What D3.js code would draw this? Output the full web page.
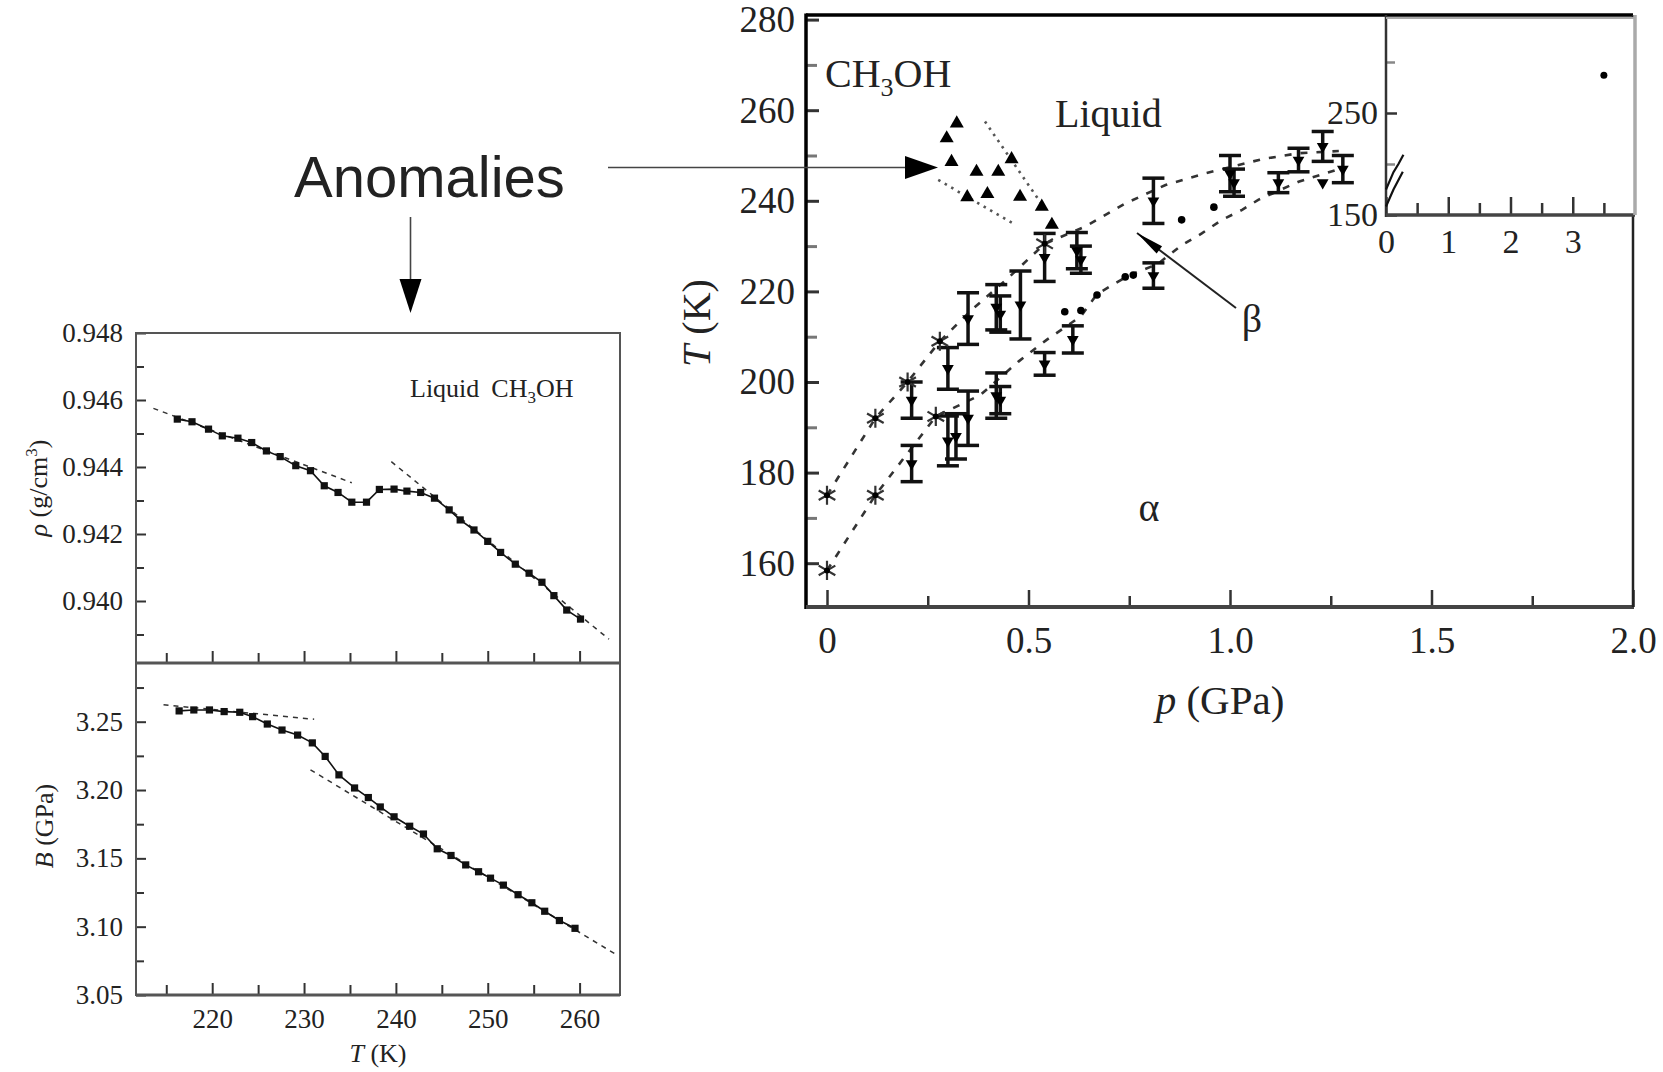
<!DOCTYPE html>
<html>
<head>
<meta charset="utf-8">
<script src="https://cdn.jsdelivr.net/npm/d3@7"></script>
<style>
  body { margin: 0; background: #fff; }
  svg { display: block; }
  text { font-family: "Liberation Serif", "Times New Roman", serif; fill: #222; }
</style>
</head>
<body>
<svg id="fig" width="1663" height="1072"></svg>
<script>
// ---------------- Left figure: liquid CH3OH density and bulk modulus ----------------
const rhoT = [216.2, 217.8, 219.6, 221.1, 222.8, 224.3, 225.9, 227.4, 229.1, 230.7, 232.2, 233.7, 235.2, 236.8, 238.2,
              239.8, 241.2, 242.7, 244.2, 245.8, 247.0, 248.5, 250.0, 251.4, 253.0, 254.5, 255.9, 257.2, 258.6, 260.1];
const rhoVal = [0.94543, 0.94535, 0.94513, 0.94493, 0.94486, 0.94473, 0.94448, 0.94431, 0.94404, 0.94389, 0.94344, 0.94324,
                0.94295, 0.94295, 0.94333, 0.94334, 0.94328, 0.94324, 0.94307, 0.94272, 0.94242, 0.94212, 0.94178, 0.94145,
                0.94110, 0.94083, 0.94056, 0.94016, 0.93973, 0.93946];
const rhoFitAT = [213.6, 235.2], rhoFitAV = [0.94575, 0.94353];
const rhoFitBT = [239.5, 263.2], rhoFitBV = [0.94416, 0.93886];

const bT = [216.4, 218.0, 219.7, 221.3, 223.0, 224.4, 226.0, 227.6, 229.3, 230.9, 232.3, 233.8, 235.5, 237.0, 238.3,
            239.8, 241.5, 243.0, 244.5, 246.0, 247.6, 249.0, 250.3, 251.7, 253.3, 254.8, 256.2, 257.8, 259.5];
const bVal = [3.2579, 3.2586, 3.2586, 3.2574, 3.2569, 3.2537, 3.2483, 3.2439, 3.2402, 3.2345, 3.2246, 3.2111, 3.2015, 3.1945,
              3.1876, 3.1804, 3.1735, 3.1678, 3.1570, 3.1521, 3.1452, 3.1402, 3.1355, 3.1304, 3.1234, 3.1175, 3.1113, 3.1045, 3.0988];
const bFitAT = [214.7, 231.1], bFitAV = [3.2624, 3.2518];
const bFitBT = [230.7, 264.2], bFitBV = [3.2148, 3.0787];

const leftTempMajor = [220, 230, 240, 250, 260];
const leftTempMinor = [215, 225, 235, 245, 255];
const rhoTicks = [0.940, 0.942, 0.944, 0.946, 0.948];
const rhoMinor = [0.939, 0.941, 0.943, 0.945, 0.947];
const bTicks = [3.05, 3.10, 3.15, 3.20, 3.25];
const bMinor = [3.075, 3.125, 3.175, 3.225, 3.275];

// ---------------- Right figure: T–p phase diagram ----------------
const pTicks = [0, 0.5, 1.0, 1.5, 2.0];
const pMinor = [0.25, 0.75, 1.25, 1.75];
const tTicks = [160, 180, 200, 220, 240, 260, 280];
const tMinor = [170, 190, 210, 230, 250, 270];

const curveUpP = [0, 0.12, 0.20, 0.28, 0.36, 0.45, 0.54, 0.64, 0.74, 0.84, 0.94, 1.08, 1.17, 1.27];
const curveUpT = [175, 192, 200, 209, 216, 223, 230.5, 234.3, 239.4, 243.5, 246.1, 249.2, 250.5, 251];
const curveLoP = [0, 0.12, 0.27, 0.38, 0.475, 0.545, 0.63, 0.67, 0.75, 0.82, 0.88, 0.93, 0.98, 1.03, 1.07, 1.17, 1.27];
const curveLoT = [158.4, 175, 192.4, 197.1, 204.5, 209.3, 214.5, 219.4, 223.6, 226, 230.2, 232.8, 235.8, 238, 240.2, 244.2, 247];

const starP = [0, 0.12, 0.20, 0.28, 0.54, 0, 0.12, 0.27];
const starT = [175, 192, 200, 209, 230.5, 158.4, 175, 192.4];

const triP = [0.322, 0.297, 0.309, 0.371, 0.425, 0.458, 0.348, 0.398, 0.479, 0.533, 0.558];
const triT = [257.1, 253.8, 248.6, 246.4, 246.4, 249.2, 240.8, 241.5, 240.9, 238.7, 234.7];
const dotLineAP = [0.392, 0.537], dotLineAT = [257.5, 238.7];
const dotLineBP = [0.276, 0.462], dotLineBT = [244.6, 235.0];

const ebP = [0.21, 0.21, 0.30, 0.30, 0.32, 0.35, 0.42, 0.43, 0.54, 0.61, 0.81,
             0.35, 0.42, 0.43, 0.48, 0.54, 0.62, 0.63, 0.81, 1.00, 1.01, 1.12, 1.17, 1.23, 1.28];
const ebT = [182, 196, 203, 187, 188, 192, 197, 196, 204, 209.4, 223.5,
             214, 216.5, 215, 217, 227.5, 229, 227, 240, 246, 244, 244, 249, 252, 247];
const ebErr = [4, 4, 4.6, 5.5, 5, 6, 5, 3, 2.5, 3, 2.8,
               5.7, 5, 4, 7.5, 5.3, 4, 3, 5, 4, 3, 2.2, 2.6, 3.3, 3];

const dotP = [0.59, 0.63, 0.67, 0.74, 0.76, 0.88, 0.96];
const dotT = [215.5, 215.8, 219.2, 223.2, 223.6, 235.8, 238.6];
const loneP = [1.23], loneT = [244];

const insetPTicks = [0, 1, 2, 3];
const insetPMinor = [0.5, 1.5, 2.5, 3.5];
const insetTTicks = [150, 250];
const insetTMinor = [200, 300];
const insetPointP = [3.5], insetPointT = [287];

// ====================================================================
const svg = d3.select("#fig");
const zip = (a, b) => a.map((v, i) => [v, b[i]]);

// ---------- left figure frame ----------
const L = { left: 136, right: 620, top: 333, mid: 663, bottom: 995 };
const xL = d3.scaleLinear().domain([220, 260]).range([212.2, 579.6]);
const yRho = d3.scaleLinear().domain([0.940, 0.948]).range([601, 333]);
const yB = d3.scaleLinear().domain([3.05, 3.25]).range([995, 721.7]);

const left = svg.append("g");
const frameStroke = "#555";

function styleAxis(g) {
  g.select(".domain").remove();
  g.selectAll(".tick line").attr("stroke", "#333").attr("stroke-width", 2);
  g.selectAll(".tick text").attr("fill", "#222").attr("font-family", "Liberation Serif");
}

// ρ axis
left.append("g").attr("transform", `translate(${L.left},0)`)
  .call(d3.axisLeft(yRho).tickValues(rhoTicks).tickFormat(d3.format(".3f")).tickSizeInner(-10).tickSizeOuter(0).tickPadding(13))
  .call(styleAxis).call(g => g.selectAll("text").attr("font-size", 27));
left.append("g").attr("transform", `translate(${L.left},0)`)
  .call(d3.axisLeft(yRho).tickValues(rhoMinor).tickFormat("").tickSizeInner(-8).tickSizeOuter(0))
  .call(styleAxis);
// B axis
left.append("g").attr("transform", `translate(${L.left},0)`)
  .call(d3.axisLeft(yB).tickValues(bTicks).tickFormat(d3.format(".2f")).tickSizeInner(-10).tickSizeOuter(0).tickPadding(13))
  .call(styleAxis).call(g => g.selectAll("text").attr("font-size", 27));
left.append("g").attr("transform", `translate(${L.left},0)`)
  .call(d3.axisLeft(yB).tickValues(bMinor).tickFormat("").tickSizeInner(-8).tickSizeOuter(0))
  .call(styleAxis);
// temperature ticks on the divider and on the bottom axis
[L.mid, L.bottom].forEach((yy, k) => {
  left.append("g").attr("transform", `translate(0,${yy})`)
    .call(d3.axisBottom(xL).tickValues(leftTempMajor).tickFormat(k === 1 ? d3.format("d") : "")
      .tickSizeInner(-12).tickSizeOuter(0).tickPadding(14))
    .call(styleAxis).call(g => g.selectAll("text").attr("font-size", 27));
  left.append("g").attr("transform", `translate(0,${yy})`)
    .call(d3.axisBottom(xL).tickValues(leftTempMinor).tickFormat("").tickSizeInner(-10).tickSizeOuter(0))
    .call(styleAxis);
});

// frames
left.append("rect").attr("x", L.left).attr("y", L.top).attr("width", L.right - L.left).attr("height", L.bottom - L.top)
  .attr("fill", "none").attr("stroke", frameStroke).attr("stroke-width", 2);
left.append("line").attr("x1", L.left).attr("x2", L.right).attr("y1", L.mid).attr("y2", L.mid)
  .attr("stroke", frameStroke).attr("stroke-width", 3);
left.append("line").attr("x1", L.left).attr("x2", L.right).attr("y1", L.bottom).attr("y2", L.bottom)
  .attr("stroke", frameStroke).attr("stroke-width", 3);

function drawSeries(g, xs, ys, yScale) {
  const line = d3.line().x(d => xL(d[0])).y(d => yScale(d[1]));
  g.append("path").datum(zip(xs, ys)).attr("d", line).attr("fill", "none").attr("stroke", "#111").attr("stroke-width", 1.6);
  g.selectAll(null).data(zip(xs, ys)).join("rect")
    .attr("x", d => xL(d[0]) - 3.6).attr("y", d => yScale(d[1]) - 3.6).attr("width", 7.2).attr("height", 7.2)
    .attr("fill", "#111");
}
function drawFit(g, xs, ys, yScale) {
  g.append("path").datum(zip(xs, ys))
    .attr("d", d3.line().x(d => xL(d[0])).y(d => yScale(d[1])))
    .attr("fill", "none").attr("stroke", "#333").attr("stroke-width", 1.5).attr("stroke-dasharray", "5,5");
}
drawFit(left, rhoFitAT, rhoFitAV, yRho);
drawFit(left, rhoFitBT, rhoFitBV, yRho);
drawSeries(left, rhoT, rhoVal, yRho);
drawFit(left, bFitAT, bFitAV, yB);
drawFit(left, bFitBT, bFitBV, yB);
drawSeries(left, bT, bVal, yB);

// left labels
const lbl1 = left.append("text").attr("x", 410).attr("y", 397).attr("font-size", 26);
lbl1.append("tspan").text("Liquid");
lbl1.append("tspan").attr("dx", 12).text("CH");
lbl1.append("tspan").attr("font-size", 17).attr("dy", 6).text("3");
lbl1.append("tspan").attr("dy", -6).text("OH");

const rhoTitle = left.append("text").attr("transform", "translate(47,488) rotate(-90)")
  .attr("text-anchor", "middle").attr("font-size", 26);
rhoTitle.append("tspan").attr("font-style", "italic").text("ρ");
rhoTitle.append("tspan").text("  (g/cm");
rhoTitle.append("tspan").attr("font-size", 17).attr("dy", -10).text("3");
rhoTitle.append("tspan").attr("dy", 10).text(")");

const bTitle = left.append("text").attr("transform", "translate(53,826) rotate(-90)")
  .attr("text-anchor", "middle").attr("font-size", 26);
bTitle.append("tspan").attr("font-style", "italic").text("B");
bTitle.append("tspan").text("  (GPa)");

const tTitleL = left.append("text").attr("x", 378).attr("y", 1062).attr("text-anchor", "middle").attr("font-size", 26);
tTitleL.append("tspan").attr("font-style", "italic").text("T");
tTitleL.append("tspan").text(" (K)");

// ---------- right figure: phase diagram ----------
const M = { left: 806, right: 1633, top: 15, bottom: 607 };
const xM = d3.scaleLinear().domain([0, 2]).range([827, 1633]);
const yM = d3.scaleLinear().domain([160, 280]).range([563.2, 19.6]);
const main = svg.append("g");

main.append("g").attr("transform", `translate(${M.left},0)`)
  .call(d3.axisLeft(yM).tickValues(tTicks).tickFormat(d3.format("d")).tickSizeInner(-13).tickSizeOuter(0).tickPadding(11))
  .call(styleAxis).call(g => { g.selectAll("line").attr("stroke-width", 3); g.selectAll("text").attr("font-size", 37); });
main.append("g").attr("transform", `translate(${M.left},0)`)
  .call(d3.axisLeft(yM).tickValues(tMinor).tickFormat("").tickSizeInner(-11).tickSizeOuter(0))
  .call(styleAxis).call(g => g.selectAll("line").attr("stroke", "#777").attr("stroke-width", 3));
main.append("g").attr("transform", `translate(0,${M.bottom})`)
  .call(d3.axisBottom(xM).tickValues(pTicks).tickFormat(d => d === 0 ? "0" : d.toFixed(1))
    .tickSizeInner(-17).tickSizeOuter(0).tickPadding(20))
  .call(styleAxis).call(g => { g.selectAll("line").attr("stroke-width", 2.5); g.selectAll("text").attr("font-size", 37); });
main.append("g").attr("transform", `translate(0,${M.bottom})`)
  .call(d3.axisBottom(xM).tickValues(pMinor).tickFormat("").tickSizeInner(-11).tickSizeOuter(0))
  .call(styleAxis).call(g => g.selectAll("line").attr("stroke-width", 2.5));

// frame
main.append("line").attr("x1", M.left).attr("x2", M.left).attr("y1", M.top - 1.5).attr("y2", M.bottom + 2)
  .attr("stroke", "#000").attr("stroke-width", 3.5);
main.append("line").attr("x1", M.left).attr("x2", M.right).attr("y1", M.top).attr("y2", M.top)
  .attr("stroke", "#000").attr("stroke-width", 3.5);
main.append("line").attr("x1", M.left).attr("x2", M.right + 1).attr("y1", M.bottom).attr("y2", M.bottom)
  .attr("stroke", "#444").attr("stroke-width", 4);
main.append("line").attr("x1", M.right).attr("x2", M.right).attr("y1", M.top).attr("y2", M.bottom)
  .attr("stroke", "#222").attr("stroke-width", 2.5);

const lineM = d3.line().x(d => xM(d[0])).y(d => yM(d[1]));

// phase boundaries
[[curveUpP, curveUpT], [curveLoP, curveLoT]].forEach(([ps, ts]) => {
  main.append("path").datum(zip(ps, ts)).attr("d", lineM).attr("fill", "none")
    .attr("stroke", "#333").attr("stroke-width", 2.6).attr("stroke-dasharray", "7,9");
});
// anomaly region boundaries
[[dotLineAP, dotLineAT], [dotLineBP, dotLineBT]].forEach(([ps, ts]) => {
  main.append("path").datum(zip(ps, ts)).attr("d", lineM).attr("fill", "none")
    .attr("stroke", "#555").attr("stroke-width", 2.6).attr("stroke-dasharray", "2.5,5");
});

// error bars
const capW = 11;
const eb = main.append("g").attr("stroke", "#111").attr("stroke-width", 3.5);
ebP.forEach((p, i) => {
  const x = xM(p), y1 = yM(ebT[i] + ebErr[i]), y2 = yM(ebT[i] - ebErr[i]);
  eb.append("line").attr("x1", x).attr("x2", x).attr("y1", y1).attr("y2", y2);
  eb.append("line").attr("x1", x - capW).attr("x2", x + capW).attr("y1", y1).attr("y2", y1);
  eb.append("line").attr("x1", x - capW).attr("x2", x + capW).attr("y1", y2).attr("y2", y2);
});
const triDown = d3.symbol().type(d3.symbolTriangle).size(60);
main.selectAll(null).data(zip(ebP.concat(loneP), ebT.concat(loneT))).join("path")
  .attr("d", triDown).attr("transform", d => `translate(${xM(d[0])},${yM(d[1])}) rotate(180)`).attr("fill", "#000");

// plain points
main.selectAll(null).data(zip(dotP, dotT)).join("circle")
  .attr("cx", d => xM(d[0])).attr("cy", d => yM(d[1])).attr("r", 3.8).attr("fill", "#000");

// anomaly triangles
const triUp = d3.symbol().type(d3.symbolTriangle).size(85);
main.selectAll(null).data(zip(triP, triT)).join("path")
  .attr("d", triUp).attr("transform", d => `translate(${xM(d[0])},${yM(d[1])})`).attr("fill", "#000");

// asterisks
const star = d3.symbol().type(d3.symbolAsterisk).size(260);
main.selectAll(null).data(zip(starP, starT)).join("path")
  .attr("d", star).attr("transform", d => `translate(${xM(d[0])},${yM(d[1])})`)
  .attr("fill", "none").attr("stroke", "#333").attr("stroke-width", 2.2);
main.selectAll(null).data(zip(starP, starT)).join("circle")
  .attr("cx", d => xM(d[0])).attr("cy", d => yM(d[1])).attr("r", 3).attr("fill", "#000");

// inset
const I = { left: 1386, right: 1635, top: 15, bottom: 215 };
const xI = d3.scaleLinear().domain([0, 4]).range([I.left, I.right]);
const yI = d3.scaleLinear().domain([150, 250]).range([I.bottom, 113]);
const inset = main.append("g");
inset.append("rect").attr("x", I.left).attr("y", I.top + 2).attr("width", I.right - I.left).attr("height", I.bottom - I.top - 2)
  .attr("fill", "#fff");
inset.append("g").attr("transform", `translate(${I.left},0)`)
  .call(d3.axisLeft(yI).tickValues(insetTTicks).tickFormat(d3.format("d")).tickSizeInner(-11).tickSizeOuter(0).tickPadding(8))
  .call(styleAxis).call(g => { g.selectAll("line").attr("stroke-width", 2.5); g.selectAll("text").attr("font-size", 34); });
inset.append("g").attr("transform", `translate(${I.left},0)`)
  .call(d3.axisLeft(yI).tickValues(insetTMinor).tickFormat("").tickSizeInner(-9).tickSizeOuter(0))
  .call(styleAxis).call(g => g.selectAll("line").attr("stroke", "#888").attr("stroke-width", 2.5));
inset.append("g").attr("transform", `translate(0,${I.bottom})`)
  .call(d3.axisBottom(xI).tickValues(insetPTicks).tickFormat(d3.format("d")).tickSizeInner(-18).tickSizeOuter(0).tickPadding(14))
  .call(styleAxis).call(g => { g.selectAll("line").attr("stroke-width", 2.5); g.selectAll("text").attr("font-size", 34); });
inset.append("g").attr("transform", `translate(0,${I.bottom})`)
  .call(d3.axisBottom(xI).tickValues(insetPMinor).tickFormat("").tickSizeInner(-12).tickSizeOuter(0))
  .call(styleAxis).call(g => g.selectAll("line").attr("stroke-width", 2.5));
inset.append("line").attr("x1", I.left).attr("x2", I.left).attr("y1", I.top).attr("y2", I.bottom + 2)
  .attr("stroke", "#333").attr("stroke-width", 2.5);
inset.append("line").attr("x1", I.left).attr("x2", I.right).attr("y1", I.bottom).attr("y2", I.bottom)
  .attr("stroke", "#444").attr("stroke-width", 3.5);
inset.append("line").attr("x1", I.left).attr("x2", I.right).attr("y1", I.top + 3).attr("y2", I.top + 3)
  .attr("stroke", "#aaa").attr("stroke-width", 2);
inset.append("line").attr("x1", I.right).attr("x2", I.right).attr("y1", I.top).attr("y2", I.bottom)
  .attr("stroke", "#aaa").attr("stroke-width", 3.5);
const lineI = d3.line().x(d => xI(d[0])).y(d => yI(d[1]));
[[curveUpP.slice(0, 4), curveUpT.slice(0, 4)], [curveLoP.slice(0, 3), curveLoT.slice(0, 3)]].forEach(([ps, ts]) => {
  inset.append("path").datum(zip(ps, ts)).attr("d", lineI).attr("fill", "none")
    .attr("stroke", "#111").attr("stroke-width", 2.2);
});
inset.selectAll(null).data(zip(insetPointP, insetPointT)).join("circle")
  .attr("cx", d => xI(d[0])).attr("cy", d => yI(d[1])).attr("r", 3.5).attr("fill", "#000");

// region and axis labels
const ch = main.append("text").attr("x", 825).attr("y", 87).attr("font-size", 40);
ch.append("tspan").text("CH");
ch.append("tspan").attr("font-size", 26).attr("dy", 9).text("3");
ch.append("tspan").attr("dy", -9).text("OH");
main.append("text").attr("x", 1055).attr("y", 127).attr("font-size", 40).text("Liquid");
main.append("text").attr("x", 1149).attr("y", 521).attr("text-anchor", "middle").attr("font-size", 40).text("α");
main.append("text").attr("x", 1252).attr("y", 332).attr("text-anchor", "middle").attr("font-size", 40).text("β");

const tTitle = main.append("text").attr("transform", "translate(710,323) rotate(-90)")
  .attr("text-anchor", "middle").attr("font-size", 40);
tTitle.append("tspan").attr("font-style", "italic").text("T");
tTitle.append("tspan").text("  (K)");
const pTitle = main.append("text").attr("x", 1220).attr("y", 714).attr("text-anchor", "middle").attr("font-size", 41);
pTitle.append("tspan").attr("font-style", "italic").text("p");
pTitle.append("tspan").text("  (GPa)");

// β pointer
const bx1 = 1137, by1 = 233, bx2 = 1236, by2 = 308;
main.append("line").attr("x1", bx1).attr("y1", by1).attr("x2", bx2).attr("y2", by2)
  .attr("stroke", "#222").attr("stroke-width", 2);
{
  const ang = Math.atan2(by2 - by1, bx2 - bx1), len = 28, hw = 4.5;
  const bxm = bx1 + len * Math.cos(ang), bym = by1 + len * Math.sin(ang);
  const nx = -Math.sin(ang) * hw, ny = Math.cos(ang) * hw;
  main.append("polygon")
    .attr("points", `${bx1},${by1} ${bxm + nx},${bym + ny} ${bxm - nx},${bym - ny}`).attr("fill", "#000");
}

// ---------- annotation ----------
const note = svg.append("g");
note.append("text").attr("x", 294).attr("y", 197).attr("font-size", 58)
  .attr("font-family", "Liberation Sans, Arial, sans-serif").style("font-family", "'Liberation Sans', Arial, sans-serif")
  .attr("fill", "#111").text("Anomalies");
note.append("line").attr("x1", 608).attr("x2", 907).attr("y1", 167.5).attr("y2", 167.5)
  .attr("stroke", "#444").attr("stroke-width", 1.6);
note.append("polygon").attr("points", "905,156 938,167.5 905,179").attr("fill", "#000");
note.append("line").attr("x1", 410.5).attr("x2", 410.5).attr("y1", 217).attr("y2", 282)
  .attr("stroke", "#444").attr("stroke-width", 1.6);
note.append("polygon").attr("points", "399.5,279 421.5,279 410.5,313").attr("fill", "#000");
</script>
</body>
</html>
